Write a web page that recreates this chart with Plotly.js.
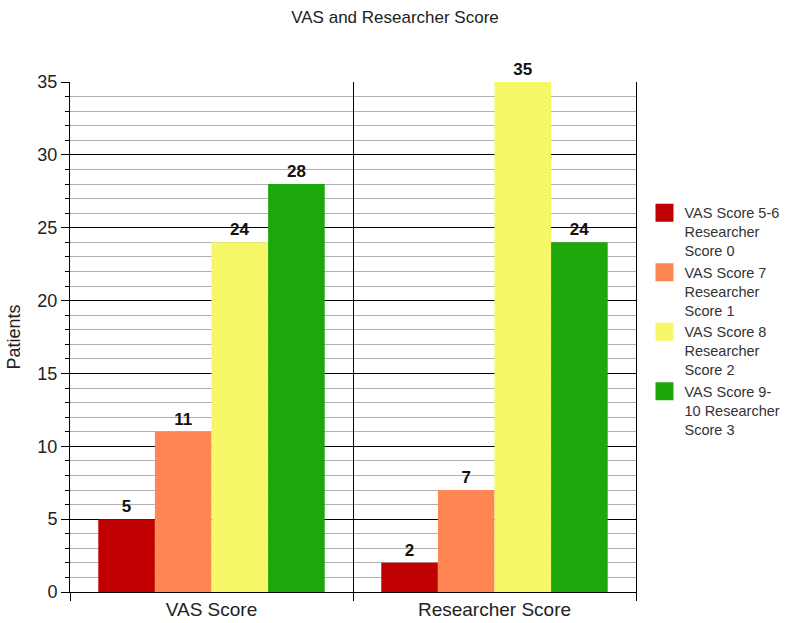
<!DOCTYPE html>
<html><head><meta charset="utf-8">
<script src="https://cdn.plot.ly/plotly-3.0.1.min.js"></script>
<style>body{margin:0;background:#fff}#chart{width:790px;height:623px}</style>
</head><body><div id="chart"></div>
<script>
const categories = ["VAS Score", "Researcher Score"];
const seriesNames = ["VAS Score 5-6<br>Researcher<br>Score 0", "VAS Score 7<br>Researcher<br>Score 1", "VAS Score 8<br>Researcher<br>Score 2", "VAS Score 9-<br>10 Researcher<br>Score 3"];
const score0 = [5, 2];
const score1 = [11, 7];
const score2 = [24, 35];
const score3 = [28, 24];
const colors = ["#c00000", "#ff8552", "#f7f76a", "#1ca70a"];
const values = [score0, score1, score2, score3];

const font = "Liberation Sans, Arial, sans-serif";
const traces = values.map((v, i) => ({
  type: "bar", name: seriesNames[i], x: categories, y: v, legendgroup: "g" + i, showlegend: false,
  marker: {color: colors[i], line: {width: 0}},
  text: v.map(String), textposition: "outside", cliponaxis: false,
  textfont: {family: font, size: 17, color: "#111", weight: "bold"}
}));
// legend keys (larger square swatches) tied to the bar series
values.forEach((v, i) => traces.push({
  type: "scatter", mode: "markers", name: seriesNames[i], legendgroup: "g" + i,
  x: [null], y: [null], hoverinfo: "skip",
  marker: {symbol: "square", size: 16, color: colors[i], line: {width: 2, color: colors[i]}}
}));

const layout = {
  width: 790, height: 623,
  margin: {l: 70, r: 154, t: 82, b: 31, autoexpand: false},
  paper_bgcolor: "#fff", plot_bgcolor: "#fff",
  font: {family: font, color: "#222"},
  title: {text: "VAS and Researcher Score", x: 0.5, xref: "container", y: 0.973, yanchor: "middle", font: {size: 17, color: "#222"}},
  barmode: "group", bargap: 0.2, bargroupgap: 0,
  showlegend: true,
  legend: {x: 1.015, y: 0.775, xanchor: "left", yanchor: "top", valign: "top", font: {size: 14.5, color: "#333"}, itemwidth: 30, itemsizing: "trace", tracegroupgap: 0, bgcolor: "rgba(0,0,0,0)"},
  xaxis: {
    type: "category", tickson: "boundaries", showgrid: true, gridcolor: "#000", gridwidth: 1,
    ticks: "outside", ticklen: 8, tickcolor: "#000",
    showline: true, linecolor: "#000", linewidth: 1, mirror: false,
    tickfont: {size: 19, color: "#222"}, zeroline: false
  },
  yaxis: {
    range: [0, 35], dtick: 5, tick0: 0, showgrid: true, gridcolor: "#000", gridwidth: 1,
    ticks: "outside", ticklen: 8, tickcolor: "#000",
    showline: true, linecolor: "#000", linewidth: 1, zeroline: false, mirror: true,
    tickfont: {size: 18, color: "#222"},
    minor: {dtick: 1, showgrid: true, gridcolor: "#b0b0b0", gridwidth: 1, ticks: "outside", ticklen: 4, tickcolor: "#000"},
    title: {text: "Patients", font: {size: 18, color: "#222"}, standoff: 12}
  }
};
Plotly.newPlot("chart", traces, layout, {displayModeBar: false, staticPlot: true});
</script></body></html>
